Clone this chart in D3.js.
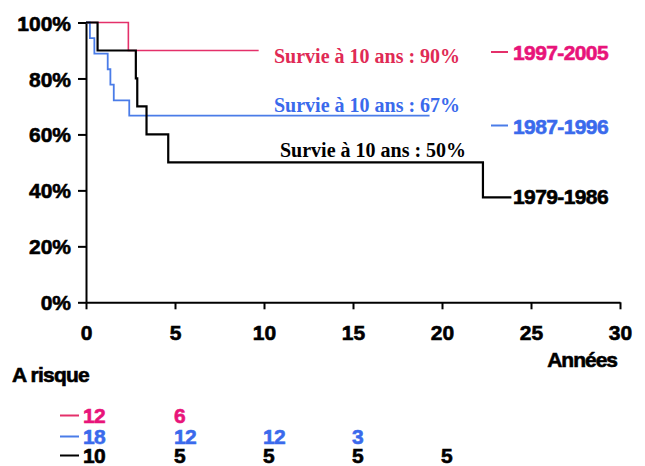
<!DOCTYPE html>
<html>
<head>
<meta charset="utf-8">
<script src="https://cdn.jsdelivr.net/npm/d3@7"></script>
<style>
  html, body { margin: 0; padding: 0; background: #fff; }
  svg { display: block; }
  .sans { font-family: "Liberation Sans", Arial, sans-serif; font-weight: bold; }
  .serif { font-family: "Liberation Serif", "Times New Roman", serif; font-weight: bold; }
</style>
</head>
<body>
<svg id="chart" width="645" height="466"></svg>
<script>
// ---- data ----
const xTicks = [0, 5, 10, 15, 20, 25, 30];
const yTicks = [0, 20, 40, 60, 80, 100];

const groups = ["1997-2005", "1987-1996", "1979-1986"];

const times1997 = [0, 2.38, 9.7];
const surv1997  = [100, 90, 90];

const times1987 = [0, 0.22, 0.47, 1.22, 1.37, 1.56, 2.43, 19.3];
const surv1987  = [100, 94.4, 88.9, 83.3, 77.8, 72.2, 66.7, 66.7];

const times1979 = [0, 0.65, 2.8, 2.88, 3.4, 4.62, 22.3, 23.9];
const surv1979  = [100, 90, 80, 70, 60, 50, 37.5, 37.5];

const annotations = ["Survie à 10 ans : 90%", "Survie à 10 ans : 67%", "Survie à 10 ans : 50%"];

const riskYears = [0, 5, 10, 15, 20];
const risk1997 = [12, 6];
const risk1987 = [18, 12, 12, 3];
const risk1979 = [10, 5, 5, 5, 5];

// ---- styles ----
const lineColors  = ["#e4306a", "#4a7ce8", "#000000"];
const textColors  = ["#e8147a", "#3a6aec", "#000000"];
const annotColors = ["#e02a55", "#3a6aec", "#000000"];

const svg = d3.select("#chart");
const x = d3.scaleLinear().domain([0, 30]).range([86, 620]);
const y = d3.scaleLinear().domain([0, 100]).range([302.3, 22.5]);

// axes
const xAxis = d3.axisBottom(x).tickValues(xTicks).tickSize(7).tickSizeOuter(0).tickPadding(12);
const yAxis = d3.axisLeft(y).tickValues(yTicks).tickSize(8).tickSizeOuter(0).tickPadding(7)
  .tickFormat(d => d + "%");

const gx = svg.append("g").attr("transform", `translate(0,${y(0)})`).call(xAxis);
const gy = svg.append("g").attr("transform", `translate(${x(0)},0)`).call(yAxis);
[gx, gy].forEach(g => {
  g.selectAll("path.domain").attr("stroke", "#000").attr("stroke-width", 2);
  g.selectAll(".tick line").attr("stroke", "#000").attr("stroke-width", 2);
  g.selectAll(".tick text").attr("class", "sans").attr("fill", "#000")
    .attr("stroke", "#000").attr("stroke-width", 0.6)
    .style("font-size", "21px").style("font-family", "'Liberation Sans', Arial, sans-serif")
    .style("font-weight", "bold");
});
gx.selectAll(".tick text").attr("dy", "0.9em");
gy.selectAll(".tick text").attr("dy", "0.36em");

// curves
const series = [
  {t: times1997, s: surv1997},
  {t: times1987, s: surv1987},
  {t: times1979, s: surv1979}
];
const line = d3.line().x(d => x(d[0])).y(d => y(d[1])).curve(d3.curveStepAfter);
const widths = [1.6, 1.8, 2.2];
series.forEach((ser, i) => {
  svg.append("path")
    .datum(ser.t.map((t, k) => [t, ser.s[k]]))
    .attr("d", line)
    .attr("fill", "none")
    .attr("stroke", lineColors[i])
    .attr("stroke-width", widths[i]);
});

// annotations
const annotPos = [[274, 63], [274, 112], [280, 157]];
annotations.forEach((a, i) => {
  svg.append("text").attr("class", "serif")
    .attr("x", annotPos[i][0]).attr("y", annotPos[i][1])
    .attr("fill", annotColors[i])
    .style("font-size", "20px")
    .text(a);
});

// legend
const legendY = [52.5, 126, 196.5];
groups.forEach((g, i) => {
  if (i < 2) {
    svg.append("line")
      .attr("x1", 491).attr("x2", 508)
      .attr("y1", legendY[i] - 0.5).attr("y2", legendY[i] - 0.5)
      .attr("stroke", lineColors[i]).attr("stroke-width", 2);
  }
  svg.append("text").attr("class", "sans")
    .attr("x", 513).attr("y", legendY[i]).attr("dy", "0.36em")
    .attr("fill", textColors[i]).attr("stroke", textColors[i]).attr("stroke-width", 0.6)
    .style("font-size", "21px").style("letter-spacing", "-0.6px")
    .text(g);
});

// axis title
svg.append("text").attr("class", "sans")
  .attr("x", 617).attr("y", 367).attr("text-anchor", "end")
  .attr("fill", "#000").attr("stroke", "#000").attr("stroke-width", 0.6)
  .style("font-size", "21px").style("letter-spacing", "-1px")
  .text("Années");

svg.append("text").attr("class", "sans")
  .attr("x", 12).attr("y", 382)
  .attr("fill", "#000").attr("stroke", "#000").attr("stroke-width", 0.6)
  .style("font-size", "21px").style("letter-spacing", "-0.8px")
  .text("A risque");

// risk table
const riskRows = [risk1997, risk1987, risk1979];
const rowY = [415.5, 436.5, 455.5];
riskRows.forEach((row, i) => {
  svg.append("line")
    .attr("x1", 60).attr("x2", 79)
    .attr("y1", rowY[i]).attr("y2", rowY[i])
    .attr("stroke", lineColors[i]).attr("stroke-width", 2);
  svg.selectAll(null).data(row).enter().append("text").attr("class", "sans")
    .attr("x", (d, k) => x(riskYears[k]) + (k === 0 ? -3 : -1))
    .attr("y", rowY[i]).attr("dy", "0.36em")
    .attr("fill", textColors[i]).attr("stroke", textColors[i]).attr("stroke-width", 0.6)
    .style("font-size", "21px").style("letter-spacing", "-0.8px")
    .text(d => d);
});
</script>
</body>
</html>
